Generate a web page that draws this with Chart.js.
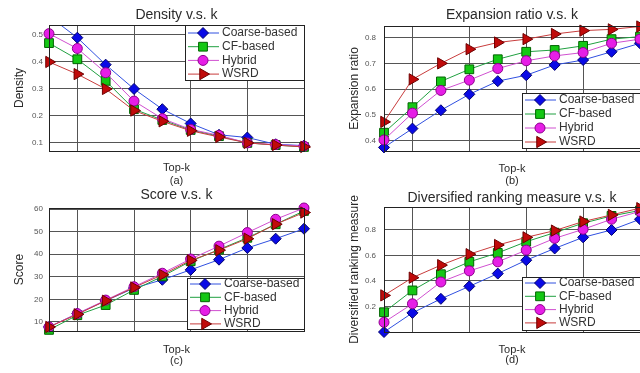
<!DOCTYPE html>
<html><head><meta charset="utf-8">
<script src="https://cdn.jsdelivr.net/npm/chart.js@4"></script>
<style>
html,body{margin:0;padding:0;width:640px;height:373px;overflow:hidden;background:#fff;}
canvas{position:absolute;}
</style></head><body>
<canvas id="ca" width="320" height="190" style="left:0;top:0"></canvas>
<canvas id="cb" width="340" height="190" style="left:320px;top:0"></canvas>
<canvas id="cc" width="320" height="190" style="left:0;top:183px"></canvas>
<canvas id="cd" width="340" height="190" style="left:320px;top:183px"></canvas>
<script>
// ---------- data ----------
const topK = [10, 20, 30, 40, 50, 60, 70, 80, 90, 100];
const seriesNames = ['Coarse-based', 'CF-based', 'Hybrid', 'WSRD'];
const xTicks = [20, 40, 60, 80, 100];

const densityCoarse = [0.57, 0.49, 0.39, 0.30, 0.225, 0.172, 0.13, 0.12, 0.095, 0.09];
const densityCF     = [0.47, 0.41, 0.33, 0.225, 0.185, 0.148, 0.125, 0.10, 0.092, 0.085];
const densityHybrid = [0.505, 0.45, 0.36, 0.255, 0.19, 0.15, 0.128, 0.10, 0.094, 0.088];
const densityWSRD   = [0.40, 0.355, 0.30, 0.22, 0.18, 0.145, 0.122, 0.10, 0.092, 0.085];
const densityTicks  = [0.1, 0.2, 0.3, 0.4, 0.5];

const expCoarse = [0.374, 0.447, 0.518, 0.58, 0.631, 0.654, 0.694, 0.713, 0.745, 0.778];
const expCF     = [0.431, 0.53, 0.63, 0.677, 0.716, 0.745, 0.752, 0.768, 0.794, 0.804];
const expHybrid = [0.403, 0.507, 0.595, 0.635, 0.68, 0.71, 0.729, 0.742, 0.778, 0.794];
const expWSRD   = [0.473, 0.638, 0.70, 0.755, 0.781, 0.794, 0.814, 0.827, 0.832, 0.843];
const expTicks  = [0.4, 0.5, 0.6, 0.7, 0.8];

const scoreCoarse = [7.8, 13.7, 19.4, 25, 28.7, 33.1, 37.6, 42.8, 46.9, 51.3];
const scoreCF     = [6.5, 13, 17.5, 24.2, 30.2, 36.9, 42.1, 47.3, 53.3, 59.2];
const scoreHybrid = [7.8, 13.7, 19.7, 25.6, 31.6, 37.9, 43.6, 49.6, 55.5, 60.5];
const scoreWSRD   = [7.8, 13.4, 19.4, 25.3, 30.9, 37.3, 41.8, 46.9, 53.3, 58.5];
const scoreTicks  = [10, 20, 30, 40, 50, 60];

const divCoarse = [0.0, 0.15, 0.26, 0.358, 0.458, 0.563, 0.655, 0.742, 0.80, 0.884];
const divCF     = [0.155, 0.326, 0.453, 0.55, 0.62, 0.708, 0.779, 0.853, 0.91, 0.953];
const divHybrid = [0.076, 0.221, 0.392, 0.479, 0.55, 0.642, 0.734, 0.805, 0.884, 0.945];
const divWSRD   = [0.287, 0.426, 0.524, 0.61, 0.682, 0.742, 0.795, 0.866, 0.918, 0.971];
const divTicks  = [0.2, 0.4, 0.6, 0.8];

// ---------- styling ----------
const FONT = '"Liberation Sans", Arial, Helvetica, sans-serif';
const styles = [
  {pointStyle: 'rectRot', radius: 5.5, rot: 0, bg: '#0a0ae6', edge: '#00006e', line: '#3050e0', order: 3},
  {pointStyle: 'rect', radius: 6.2, rot: 0, bg: '#14c814', edge: '#006400', line: '#20a040', order: 2},
  {pointStyle: 'circle', radius: 5, rot: 0, bg: '#e61ee6', edge: '#8c008c', line: '#d050d0', order: 1},
  {pointStyle: 'triangle', radius: 6.5, rot: 90, bg: '#c00a0a', edge: '#6e0000', line: '#c83c3c', order: 0}
];

const panelPlugin = {
  id: 'panel',
  afterDraw(chart, args, o) {
    const ctx = chart.ctx, a = chart.chartArea;
    ctx.save();
    ctx.strokeStyle = '#222'; ctx.lineWidth = 1;
    ctx.strokeRect(Math.round(a.left) + 0.5, Math.round(a.top) + 0.5,
                   Math.round(a.right - a.left), Math.round(a.bottom - a.top));
    // legend box inside plot
    const L = o.legend;
    ctx.fillStyle = '#fff';
    ctx.fillRect(L.x, L.y, L.w, L.h);
    ctx.strokeStyle = '#222';
    ctx.strokeRect(L.x + 0.5, L.y + 0.5, L.w, L.h);
    chart.data.datasets.forEach((ds, i) => {
      const y = L.y + L.first + i * L.step;
      ctx.strokeStyle = ds.borderColor; ctx.lineWidth = 1;
      ctx.beginPath(); ctx.moveTo(L.x + 3, y); ctx.lineTo(L.x + 34, y); ctx.stroke();
      ctx.fillStyle = ds.pointBackgroundColor; ctx.strokeStyle = ds.pointBorderColor;
      Chart.helpers.drawPoint(ctx, {pointStyle: ds.pointStyle, rotation: ds.pointRotation || 0,
        radius: ds.pointRadius, borderWidth: 1}, L.x + 18, y);
      ctx.fillStyle = '#333'; ctx.font = '12px ' + FONT;
      ctx.textAlign = 'left'; ctx.textBaseline = 'middle';
      ctx.fillText(ds.label, L.x + 37, y);
    });
    // texts
    const cx = (a.left + a.right) / 2, cy = (a.top + a.bottom) / 2;
    ctx.fillStyle = '#2a2a2a'; ctx.textAlign = 'center'; ctx.textBaseline = 'middle';
    ctx.font = '14px ' + FONT;
    ctx.fillText(o.title, cx, o.titleY);
    ctx.font = '11px ' + FONT;
    ctx.fillText('Top-k', cx, o.xtitleY);
    ctx.fillText(o.sub, cx, o.subY);
    ctx.save();
    ctx.translate(o.ytitleX, cy); ctx.rotate(-Math.PI / 2);
    ctx.font = '12px ' + FONT;
    ctx.fillText(o.ytitle, 0, 0);
    ctx.restore();
    ctx.restore();
  }
};

function makeChart(id, arrays, yTicks, cfg) {
  const datasets = arrays.map((arr, i) => {
    const s = styles[i];
    return {
      label: seriesNames[i],
      data: topK.map((x, j) => ({x: x, y: arr[j]})),
      borderColor: s.line, borderWidth: 1,
      pointStyle: s.pointStyle, pointRadius: s.radius, pointRotation: s.rot,
      pointBackgroundColor: s.bg, pointBorderColor: s.edge, pointBorderWidth: 1,
      pointHoverRadius: s.radius, order: s.order, clip: cfg.clip, tension: 0, fill: false
    };
  });
  return new Chart(document.getElementById(id), {
    type: 'line',
    data: {datasets},
    options: {
      responsive: false, animation: false, devicePixelRatio: 1, events: [],
      layout: {padding: cfg.pad},
      plugins: {legend: {display: false}, tooltip: {enabled: false}, panel: cfg.text},
      scales: {
        x: {
          type: 'linear', min: 10, max: 100,
          afterBuildTicks: s => { s.ticks = xTicks.map(v => ({value: v})); },
          afterFit: s => { s.height = 0; },
          grid: {color: '#555', lineWidth: 1, drawTicks: false},
          border: {display: false},
          ticks: {font: {size: 8, family: FONT}, color: '#555', padding: 2, maxRotation: 0, autoSkip: false,
                  callback: v => String(v)}
        },
        y: {
          type: 'linear', min: cfg.ymin, max: cfg.ymax,
          afterBuildTicks: s => { s.ticks = yTicks.map(v => ({value: v})); },
          afterFit: s => { s.width = cfg.yw; },
          grid: {color: '#555', lineWidth: 1, drawTicks: false},
          border: {display: false},
          ticks: {font: {size: 8, family: FONT}, color: '#555', padding: cfg.ypad, autoSkip: false,
                  callback: v => String(v)}
        }
      }
    },
    plugins: [panelPlugin]
  });
}

makeChart('ca', [densityCoarse, densityCF, densityHybrid, densityWSRD], densityTicks, {
  ymin: 0.07, ymax: 0.537, yw: 49, ypad: 6,
  pad: {left: 0, top: 25, right: 16, bottom: 39},
  clip: {left: 10, right: 10, top: 0, bottom: 10},
  text: {title: 'Density v.s. k', ytitle: 'Density', sub: '(a)', titleY: 15, xtitleY: 168, subY: 181, ytitleX: 20,
         legend: {x: 185, y: 25, w: 119, h: 55, first: 8, step: 13.7}}
});
makeChart('cb', [expCoarse, expCF, expHybrid, expWSRD], expTicks, {
  ymin: 0.36, ymax: 0.845, yw: 64, ypad: 8,
  pad: {left: 0, top: 26, right: 20, bottom: 39},
  clip: false,
  text: {title: 'Expansion ratio v.s. k', ytitle: 'Expansion ratio', sub: '(b)', titleY: 15, xtitleY: 169, subY: 181, ytitleX: 35,
         legend: {x: 202, y: 93, w: 118, h: 55, first: 7, step: 14}}
});
makeChart('cc', [scoreCoarse, scoreCF, scoreHybrid, scoreWSRD], scoreTicks, {
  ymin: 6, ymax: 60.5, yw: 49, ypad: 6,
  pad: {left: 0, top: 25, right: 16, bottom: 42},
  clip: false,
  text: {title: 'Score v.s. k', ytitle: 'Score', sub: '(c)', titleY: 12, xtitleY: 167, subY: 178, ytitleX: 20,
         legend: {x: 187, y: 95, w: 117, h: 51, first: 6, step: 13.3}}
});
makeChart('cd', [divCoarse, divCF, divHybrid, divWSRD], divTicks, {
  ymin: 0, ymax: 0.98, yw: 64, ypad: 8,
  pad: {left: 0, top: 24, right: 20, bottom: 41},
  clip: false,
  text: {title: 'Diversified ranking measure v.s. k', ytitle: 'Diversified ranking measure', sub: '(d)', titleY: 15, xtitleY: 167, subY: 177, ytitleX: 35,
         legend: {x: 202, y: 94, w: 118, h: 53, first: 6, step: 13.3}}
});
</script>
</body></html>
